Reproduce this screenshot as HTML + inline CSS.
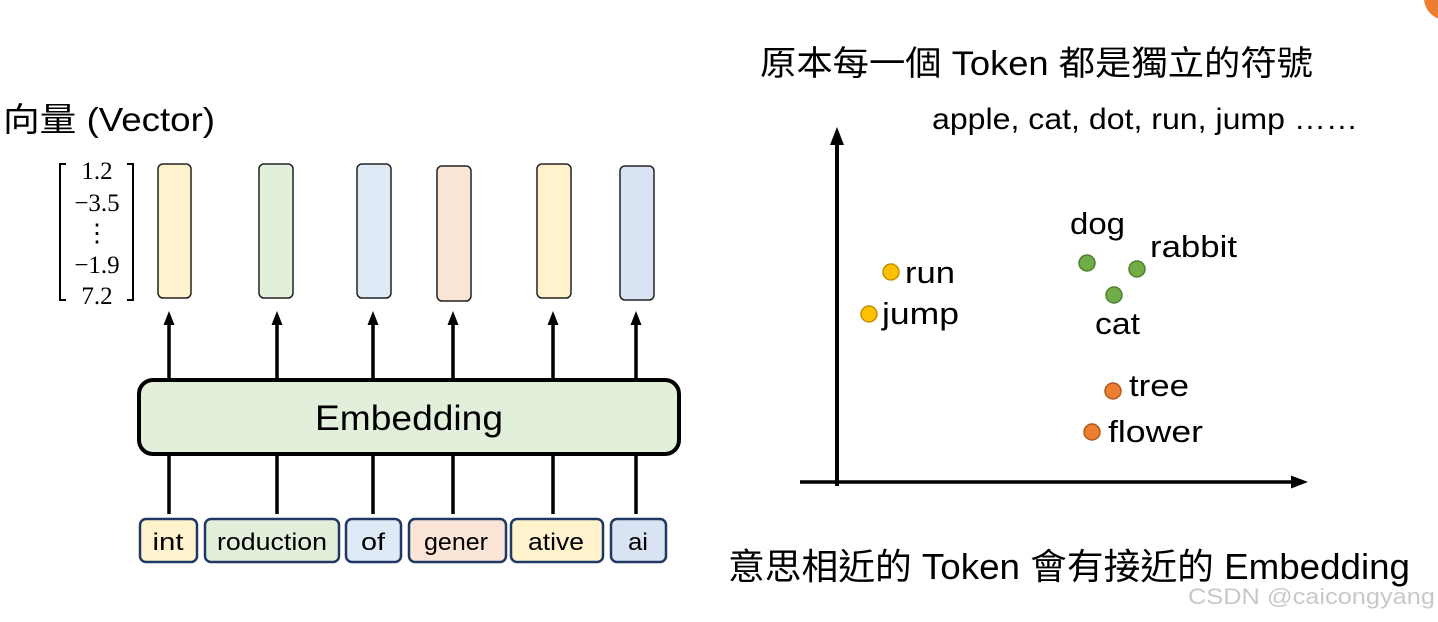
<!DOCTYPE html>
<html><head><meta charset="utf-8"><style>
html,body{margin:0;padding:0;background:#fff;}
svg{display:block;}
text{font-family:"Liberation Sans","Noto Sans CJK TC",sans-serif;fill:#000;}
.s{font-family:"Liberation Serif",serif;}
</style></head><body>
<svg width="1438" height="622" viewBox="0 0 1438 622" xmlns="http://www.w3.org/2000/svg">
<circle cx="1446" cy="-2" r="22" fill="#ed7d31"/>
<text x="3" y="131" font-size="33" textLength="212" lengthAdjust="spacingAndGlyphs">向量 (Vector)</text>
<!-- matrix -->
<path d="M66,164 H60 V300 H66" fill="none" stroke="#000" stroke-width="2"/>
<path d="M127,164 H133 V300 H127" fill="none" stroke="#000" stroke-width="2"/>
<g font-size="25" text-anchor="middle">
<text class="s" x="97" y="179">1.2</text>
<text class="s" x="97" y="211">−3.5</text>
<text class="s" x="97" y="241">⋮</text>
<text class="s" x="97" y="273">−1.9</text>
<text class="s" x="97" y="304">7.2</text>
</g>
<!-- vectors -->
<g stroke="#222" stroke-width="1.5">
<rect x="158" y="164" width="33" height="134" rx="5" fill="#fff2cc"/>
<rect x="259" y="164" width="34" height="134" rx="5" fill="#e2efda"/>
<rect x="357" y="164" width="34" height="134" rx="5" fill="#deebf7"/>
<rect x="437" y="166" width="34" height="135" rx="5" fill="#fbe5d6"/>
<rect x="537" y="164" width="34" height="134" rx="5" fill="#fff2cc"/>
<rect x="620" y="166" width="34" height="134" rx="5" fill="#dae3f3"/>
</g>
<g stroke="#000" stroke-width="3.5">
<line x1="169" y1="380" x2="169" y2="322"/>
<line x1="277" y1="380" x2="277" y2="322"/>
<line x1="373" y1="380" x2="373" y2="322"/>
<line x1="453" y1="380" x2="453" y2="322"/>
<line x1="553" y1="380" x2="553" y2="322"/>
<line x1="636" y1="380" x2="636" y2="322"/>
<line x1="169" y1="454" x2="169" y2="514"/>
<line x1="277" y1="454" x2="277" y2="514"/>
<line x1="373" y1="454" x2="373" y2="514"/>
<line x1="453" y1="454" x2="453" y2="514"/>
<line x1="553" y1="454" x2="553" y2="514"/>
<line x1="636" y1="454" x2="636" y2="514"/>
</g>
<g fill="#000">
<path d="M169,311 L163.5,325 L174.5,325 z"/>
<path d="M277,311 L271.5,325 L282.5,325 z"/>
<path d="M373,311 L367.5,325 L378.5,325 z"/>
<path d="M453,311 L447.5,325 L458.5,325 z"/>
<path d="M553,311 L547.5,325 L558.5,325 z"/>
<path d="M636,311 L630.5,325 L641.5,325 z"/>
</g>
<rect x="139" y="380" width="540" height="74" rx="14" fill="#e2efda" stroke="#000" stroke-width="4"/>
<text x="409" y="430" font-size="35" text-anchor="middle" textLength="188" lengthAdjust="spacingAndGlyphs">Embedding</text>
<!-- tokens -->
<g stroke="#1f3864" stroke-width="2.5">
<rect x="140" y="519" width="57" height="43" rx="6" fill="#fff2cc"/>
<rect x="205" y="519" width="134" height="43" rx="6" fill="#e2efda"/>
<rect x="346" y="519" width="55" height="43" rx="6" fill="#deebf7"/>
<rect x="409" y="519" width="97" height="43" rx="6" fill="#fbe5d6"/>
<rect x="511" y="519" width="92" height="43" rx="6" fill="#fff2cc"/>
<rect x="611" y="519" width="55" height="43" rx="6" fill="#dae3f3"/>
</g>
<g font-size="24" text-anchor="middle">
<text x="168" y="550" textLength="31" lengthAdjust="spacingAndGlyphs">int</text>
<text x="272" y="550" textLength="110" lengthAdjust="spacingAndGlyphs">roduction</text>
<text x="373" y="550" textLength="24" lengthAdjust="spacingAndGlyphs">of</text>
<text x="456" y="550" textLength="64" lengthAdjust="spacingAndGlyphs">gener</text>
<text x="556" y="550" textLength="56" lengthAdjust="spacingAndGlyphs">ative</text>
<text x="638" y="550" textLength="20" lengthAdjust="spacingAndGlyphs">ai</text>
</g>
<!-- right -->
<text x="760" y="75" font-size="34" textLength="553" lengthAdjust="spacingAndGlyphs">原本每一個 Token 都是獨立的符號</text>
<text x="932" y="129" font-size="30" textLength="426" lengthAdjust="spacingAndGlyphs">apple, cat, dot, run, jump ……</text>
<line x1="837" y1="486" x2="837" y2="140" stroke="#000" stroke-width="4"/>
<path d="M837,127 L830,145 L844,145 z" fill="#000"/>
<line x1="800" y1="482" x2="1295" y2="482" stroke="#000" stroke-width="3.5"/>
<path d="M1308,482 L1291,475.5 L1291,488.5 z" fill="#000"/>
<g stroke-width="1.5">
<circle cx="891" cy="272" r="8" fill="#ffc000" stroke="#bf9000"/>
<circle cx="869" cy="314" r="8" fill="#ffc000" stroke="#bf9000"/>
<circle cx="1087" cy="263" r="8" fill="#70ad47" stroke="#507e32"/>
<circle cx="1137" cy="269" r="8" fill="#70ad47" stroke="#507e32"/>
<circle cx="1114" cy="295" r="8" fill="#70ad47" stroke="#507e32"/>
<circle cx="1113" cy="391" r="8" fill="#ed7d31" stroke="#ae5a21"/>
<circle cx="1092" cy="432" r="8" fill="#ed7d31" stroke="#ae5a21"/>
</g>
<g font-size="31">
<text x="905" y="283" textLength="50" lengthAdjust="spacingAndGlyphs">run</text>
<text x="882" y="324" textLength="77" lengthAdjust="spacingAndGlyphs">jump</text>
<text x="1070" y="234" textLength="55" lengthAdjust="spacingAndGlyphs">dog</text>
<text x="1150" y="257" textLength="87" lengthAdjust="spacingAndGlyphs">rabbit</text>
<text x="1095" y="334" textLength="45" lengthAdjust="spacingAndGlyphs">cat</text>
<text x="1129" y="396" textLength="60" lengthAdjust="spacingAndGlyphs">tree</text>
<text x="1108" y="442" textLength="95" lengthAdjust="spacingAndGlyphs">flower</text>
</g>
<text x="728" y="579" font-size="36" textLength="682" lengthAdjust="spacingAndGlyphs">意思相近的 Token 會有接近的 Embedding</text>
<text x="1188" y="604" font-size="22" style="fill:#c8c8c8" textLength="247" lengthAdjust="spacingAndGlyphs">CSDN @caicongyang</text>
</svg>
</body></html>
